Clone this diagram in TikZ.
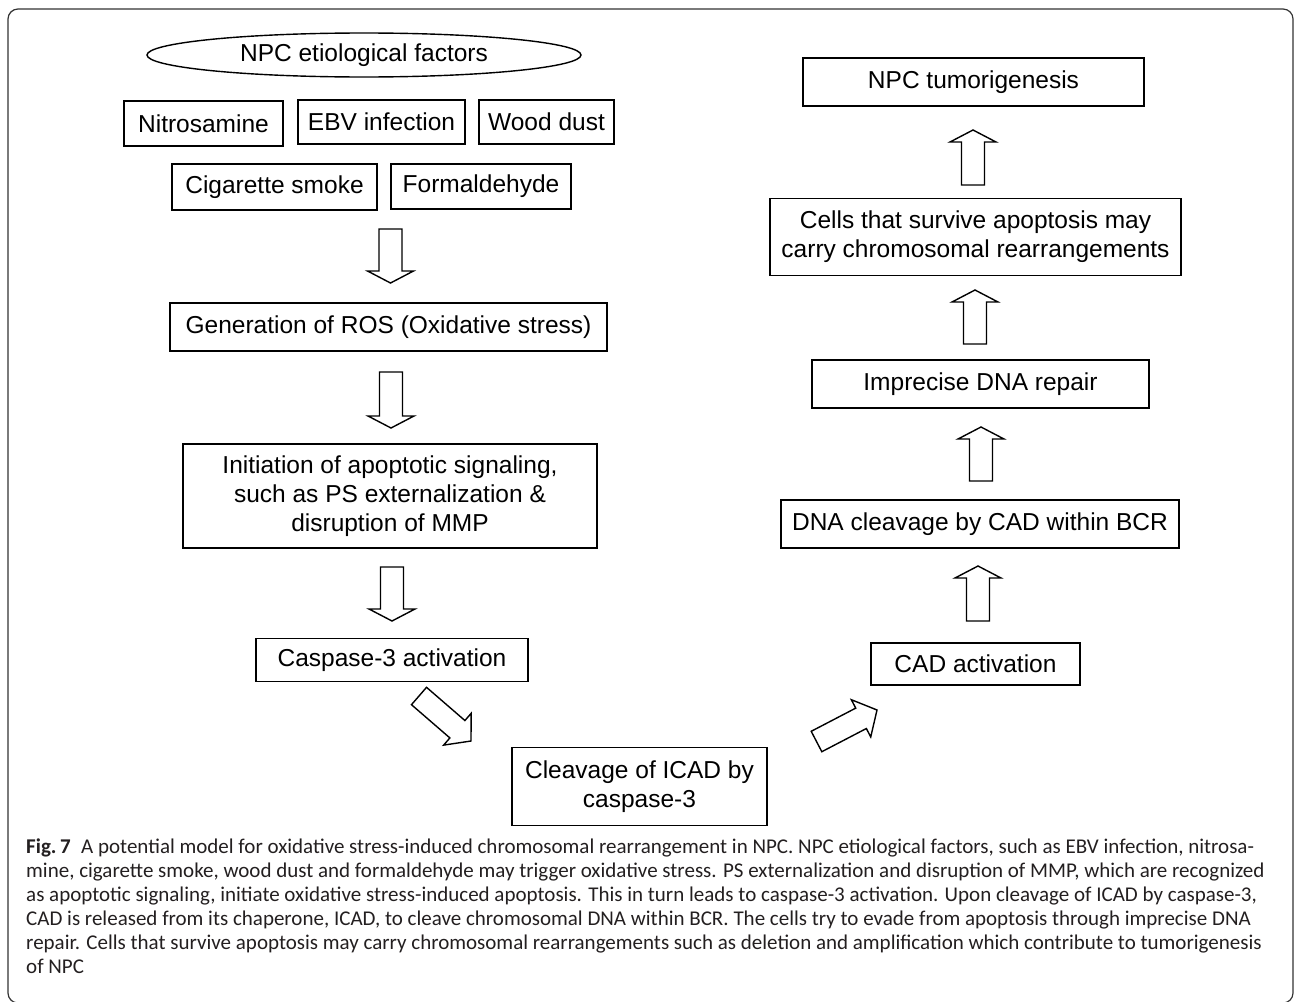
\documentclass[tikz,border=0pt]{standalone}
\usepackage{fontspec}
\setmainfont{Liberation Sans}
\newfontfamily\capfont{Carlito}
\usetikzlibrary{shapes.geometric,calc}
\definecolor{capgray}{HTML}{231F20}
\tikzset{
  box/.style={draw=black, line width=1.8pt, rectangle, inner sep=0pt, align=center,
    font=\fontsize{24.5}{29}\selectfont},
  ell/.style={draw=black, line width=1.4pt, ellipse, inner sep=0pt,
    font=\fontsize{24.5}{29}\selectfont},
  bar/.style={draw=black, line width=1.4pt, fill=white, line join=miter},
  captext/.style={inner sep=0pt, anchor=base west, text=capgray,
    font=\capfont\fontsize{21}{24}\selectfont},
  frameline/.style={draw=black!80, line width=1.2pt, rounded corners=10pt},
}
% #1 tail, #2 tip, #3 head length, #4 head half-width
\newcommand{\blockarrow}[4]{%
  \coordinate (hb) at ($(#2)!#3!(#1)$);
  \draw[bar] ($(#1)!11.5pt!90:(#2)$) -- ($(hb)!11.5pt!90:(#2)$) -- ($(hb)!#4!90:(#2)$)
    -- (#2) -- ($(hb)!#4!-90:(#2)$) -- ($(hb)!11.5pt!-90:(#2)$) -- ($(#1)!11.5pt!-90:(#2)$) -- cycle;}
\begin{document}
\begin{tikzpicture}[x=1pt,y=-1pt]
\useasboundingbox (0,0) rectangle (1295,1001);
\draw[frameline] (8,9) rectangle (1293,1003);

% left column
\node[ell, minimum width=434pt, minimum height=44pt] (etio) at (364,55) {NPC etiological factors};
\node[box, minimum width=159pt, minimum height=45pt] (nitro) at (203.5,123.5) {Nitrosamine};
\node[box, minimum width=167pt, minimum height=44pt] (ebv) at (381.5,122) {EBV infection};
\node[box, minimum width=135pt, minimum height=44pt] (wood) at (546.5,122) {Wood dust};
\node[box, minimum width=205pt, minimum height=46pt] (cig) at (274.5,187) {Cigarette smoke};
\node[box, minimum width=180pt, minimum height=45pt] (form) at (481,186.5) {Formaldehyde};
\node[box, minimum width=437pt, minimum height=48pt] (ros) at (388.5,327) {Generation of ROS (Oxidative stress)};
\node[box, minimum width=414pt, minimum height=104pt] (init) at (390,496) {Initiation of apoptotic signaling,\\ such as PS externalization \&\\ disruption of MMP};
\node[box, minimum width=272pt, minimum height=43pt] (casp) at (392,660) {Caspase-3 activation};
\node[box, minimum width=255pt, minimum height=78pt] (cleav) at (639.5,786.5) {Cleavage of ICAD by\\ caspase-3};

% right column
\node[box, minimum width=209pt, minimum height=42pt] (cad) at (975.5,664) {CAD activation};
\node[box, minimum width=398pt, minimum height=48pt] (dna) at (980,524) {DNA cleavage by CAD within BCR};
\node[box, minimum width=337pt, minimum height=48pt] (impr) at (980.5,384) {Imprecise DNA repair};
\node[box, minimum width=411pt, minimum height=77pt] (cells) at (975.5,237) {Cells that survive apoptosis may\\ carry chromosomal rearrangements};
\node[box, minimum width=341pt, minimum height=48pt] (npc) at (973.5,82) {NPC tumorigenesis};

% arrow end points
\coordinate (a1s) at (390.5,229);  \coordinate (a1e) at (390.5,283);
\coordinate (a2s) at (391,372);    \coordinate (a2e) at (391,428);
\coordinate (a3s) at (392,567);    \coordinate (a3e) at (392,621);
\coordinate (d1s) at (419,696);    \coordinate (d1e) at (471,741);
\coordinate (d2s) at (816.5,741.5);\coordinate (d2e) at (877,710);
\coordinate (u1s) at (978,621);    \coordinate (u1e) at (978,566);
\coordinate (u2s) at (981,481);    \coordinate (u2e) at (981,427);
\coordinate (u3s) at (975,344);    \coordinate (u3e) at (975,290);
\coordinate (u4s) at (973,185);    \coordinate (u4e) at (973,130);

\blockarrow{a1s}{a1e}{12pt}{23pt}
\blockarrow{a2s}{a2e}{12pt}{23pt}
\blockarrow{a3s}{a3e}{12pt}{23pt}
\blockarrow{d1s}{d1e}{18pt}{21pt}
\blockarrow{d2s}{d2e}{18pt}{21pt}
\blockarrow{u1s}{u1e}{12pt}{23pt}
\blockarrow{u2s}{u2e}{12pt}{23pt}
\blockarrow{u3s}{u3e}{12pt}{23pt}
\blockarrow{u4s}{u4e}{12pt}{23pt}

% caption
\node[captext] (c1) at (26,853) {{\bfseries Fig.\,7}\hspace{0.5em}A potential model for oxidative stress-induced chromosomal rearrangement in NPC. NPC etiological factors, such as EBV infection, nitrosa-};
\node[captext] (c2) at (26,877) {mine, cigarette smoke, wood dust and formaldehyde may trigger oxidative stress. PS externalization and disruption of MMP, which are recognized};
\node[captext] (c3) at (26,901) {as apoptotic signaling, initiate oxidative stress-induced apoptosis. This in turn leads to caspase-3 activation. Upon cleavage of ICAD by caspase-3,};
\node[captext] (c4) at (26,925) {CAD is released from its chaperone, ICAD, to cleave chromosomal DNA within BCR. The cells try to evade from apoptosis through imprecise DNA};
\node[captext] (c5) at (26,949) {repair. Cells that survive apoptosis may carry chromosomal rearrangements such as deletion and amplification which contribute to tumorigenesis};
\node[captext] (c6) at (26,973) {of NPC};
\end{tikzpicture}
\end{document}
